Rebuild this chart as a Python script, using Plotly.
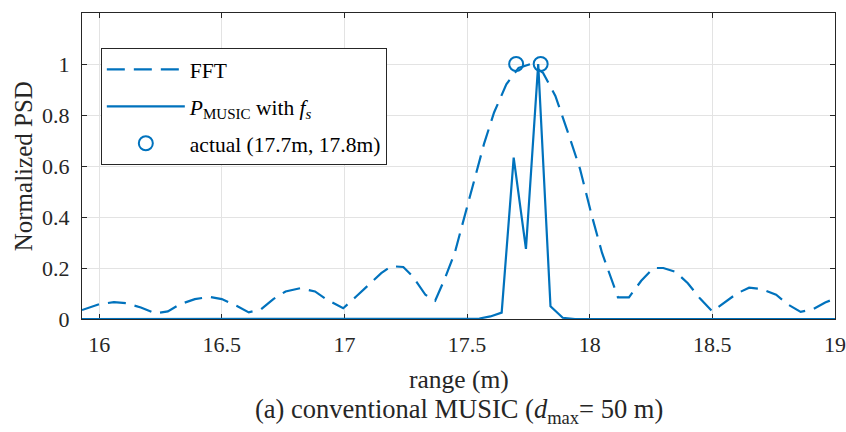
import plotly.graph_objects as go

# FFT spectrum (normalized), read at its polyline vertices
fft_range = [15.93, 16.00, 16.06, 16.11, 16.17, 16.23, 16.28, 16.33, 16.39, 16.45,
             16.50, 16.56, 16.61, 16.66, 16.71, 16.76, 16.82, 16.88, 16.93, 16.995,
             17.05, 17.10, 17.15, 17.19, 17.24, 17.28, 17.33, 17.37, 17.41, 17.45,
             17.49, 17.53, 17.57, 17.61, 17.66, 17.71, 17.76, 17.81, 17.86, 17.91,
             17.96, 18.01, 18.05, 18.115, 18.16, 18.21, 18.26, 18.30, 18.35, 18.40,
             18.45, 18.50, 18.55, 18.60, 18.65, 18.70, 18.76, 18.81, 18.86, 18.91,
             18.96, 19.00]
fft_psd = [0.035, 0.058, 0.066, 0.062, 0.045, 0.022, 0.030, 0.058, 0.078, 0.087,
           0.078, 0.052, 0.026, 0.038, 0.078, 0.108, 0.121, 0.108, 0.075, 0.042,
           0.090, 0.137, 0.180, 0.207, 0.204, 0.165, 0.095, 0.072, 0.160, 0.260,
           0.400, 0.550, 0.690, 0.810, 0.920, 0.985, 1.000, 0.965, 0.875, 0.735,
           0.590, 0.400, 0.260, 0.085, 0.085, 0.150, 0.200, 0.200, 0.185, 0.140,
           0.080, 0.030, 0.065, 0.100, 0.123, 0.118, 0.095, 0.056, 0.028, 0.038,
           0.065, 0.080]

# MUSIC pseudo-spectrum with f_s
music_range = [15.93, 17.50, 17.55, 17.595, 17.641, 17.69, 17.74, 17.79, 17.84, 17.89, 17.94, 19.00]
music_psd = [0.0, 0.0, 0.002, 0.010, 0.025, 0.633, 0.275, 1.000, 0.050, 0.005, 0.0, 0.0]

# True target ranges
actual_range = [17.7, 17.8]
actual_psd = [1.0, 1.0]

x_ticks = [16, 16.5, 17, 17.5, 18, 18.5, 19]
x_tick_text = ["16", "16.5", "17", "17.5", "18", "18.5", "19"]
y_ticks = [0, 0.2, 0.4, 0.6, 0.8, 1.0]
y_tick_text = ["0", "0.2", "0.4", "0.6", "0.8", "1"]

BLUE = "#0072BD"
AXIS = "#262626"
GRID = "#e3e3e3"
FONT = "Liberation Serif"

fig = go.Figure()
fig.add_trace(go.Scatter(
    x=fft_range, y=fft_psd, mode="lines", name="FFT", legendgroup="a",
    line=dict(color=BLUE, width=2.2, dash="18px,9px"),
))
fig.add_trace(go.Scatter(
    x=music_range, y=music_psd, mode="lines", legendgroup="b",
    name="<i>P</i><sub>MUSIC</sub> with <i>f<sub>s</sub></i>",
    line=dict(color=BLUE, width=2.2),
))
fig.add_trace(go.Scatter(
    x=actual_range, y=actual_psd, mode="markers", legendgroup="c",
    name="actual (17.7m, 17.8m)",
    marker=dict(symbol="circle-open", size=14, color=BLUE, line=dict(width=2, color=BLUE)),
    cliponaxis=False,
))

axis_common = dict(
    showline=True, linecolor=AXIS, linewidth=1, mirror="allticks",
    ticks="inside", ticklen=5, tickcolor=AXIS, tickwidth=1,
    showgrid=True, gridcolor=GRID, gridwidth=1, zeroline=False,
    tickfont=dict(family=FONT, size=22, color=AXIS),
    layer="below traces", automargin=False,
)

fig.update_xaxes(range=[15.93, 19.0], tickvals=x_ticks, ticktext=x_tick_text,
                 ticklabelstandoff=6, **axis_common)
fig.update_yaxes(range=[0, 1.2], tickvals=y_ticks, ticktext=y_tick_text,
                 ticklabelstandoff=7, **axis_common)

fig.update_layout(
    width=846, height=432,
    margin=dict(l=82, r=11, t=13, b=113),
    paper_bgcolor="white", plot_bgcolor="white",
    font=dict(family=FONT, size=21, color="black"),
    legend=dict(
        x=0.025, y=0.886, xanchor="left", yanchor="top",
        bgcolor="white", bordercolor=AXIS, borderwidth=1,
        font=dict(family=FONT, size=21.5, color="black"),
        itemwidth=78, tracegroupgap=6,
    ),
    annotations=[
        dict(text="Normalized PSD", textangle=-90, x=-0.078, y=0.5,
             xref="paper", yref="paper", xanchor="center", yanchor="middle",
             showarrow=False, font=dict(family=FONT, size=25, color=AXIS)),
        dict(text="range (m)", x=0.5, y=-0.199, xref="paper", yref="paper",
             xanchor="center", yanchor="middle",
             showarrow=False, font=dict(family=FONT, size=25.5, color=AXIS)),
        dict(text="(a) conventional MUSIC (<i>d</i><sub>max</sub>= 50 m)",
             x=0.5, y=-0.30, xref="paper", yref="paper",
             xanchor="center", yanchor="middle",
             showarrow=False, font=dict(family=FONT, size=26.5, color=AXIS)),
    ],
)

fig.write_html("out.html")
